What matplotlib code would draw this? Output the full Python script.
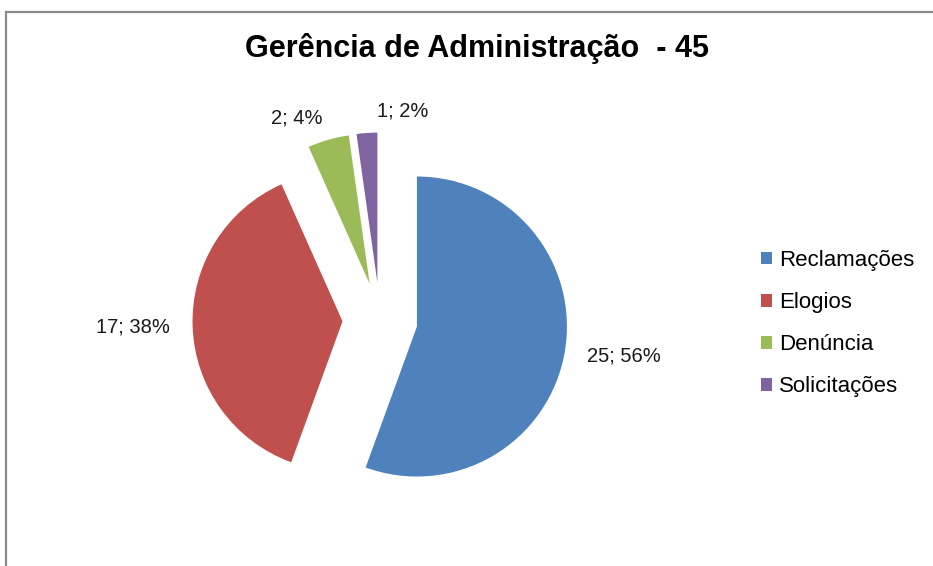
import numpy as np
import matplotlib.pyplot as plt
from matplotlib.lines import Line2D

# dados do gráfico
categorias = ["Reclamações", "Elogios", "Denúncia", "Solicitações"]
valores = [25, 17, 2, 1]
cores = ["#4F81BD", "#C0504D", "#9BBB59", "#8064A2"]
titulo = "Gerência de Administração  - 45"

total = sum(valores)
rotulos = [f"{v}; {round(100 * v / total)}%" for v in valores]

W, H = 933, 566
R = 150  # raio em pixels
fig = plt.figure(figsize=(W / 100, H / 100), dpi=100)
ax = fig.add_axes([0, 0, 1, 1])   # eixos em pixels
ax.axis("off")

# explode no matplotlib é em unidades de dados, não fração do raio
wedges, textos = ax.pie(valores, colors=cores, labels=rotulos,
                        startangle=90, counterclock=False,
                        explode=[0.25 * R] * len(valores),
                        center=(380, H - 320), radius=R,
                        labeldistance=1.15,
                        wedgeprops=dict(linewidth=0),
                        textprops=dict(fontsize=14.5, family="Liberation Sans", color="#1a1a1a"))
ax.set_xlim(0, W)
ax.set_ylim(0, H)
ax.set_aspect("equal")

# alinhamento dos rótulos conforme o lado do setor (centro não está em 0)
for w, t in zip(wedges, textos):
    meio = np.deg2rad((w.theta1 + w.theta2) / 2)
    t.set_ha("left" if np.cos(meio) > 0 else "right")
# rótulo do menor setor fica à direita dele
textos[3].set_ha("left")
textos[3].set_x(textos[3].get_position()[0] + 12)

fig.text(477 / W, 1 - 48 / H, titulo, ha="center", va="center",
         fontsize=22, fontweight="bold", family="Liberation Sans")

leg = fig.legend(wedges, categorias, loc="upper left",
                 bbox_to_anchor=(761 / W, 1 - 250 / H),
                 frameon=False,
                 prop=dict(family="Liberation Sans", size=16),
                 handlelength=0.5, handleheight=0.5,
                 handletextpad=0.3, labelspacing=0.95,
                 borderpad=0, borderaxespad=0)

# moldura cinza (topo e esquerda)
fig.add_artist(Line2D([6 / W, 6 / W], [0, 1 - 12 / H], color="#8a8a8a", lw=1.6))
fig.add_artist(Line2D([6 / W, 1], [1 - 12 / H, 1 - 12 / H], color="#8a8a8a", lw=1.6))

fig.savefig("out.png", dpi=100)
